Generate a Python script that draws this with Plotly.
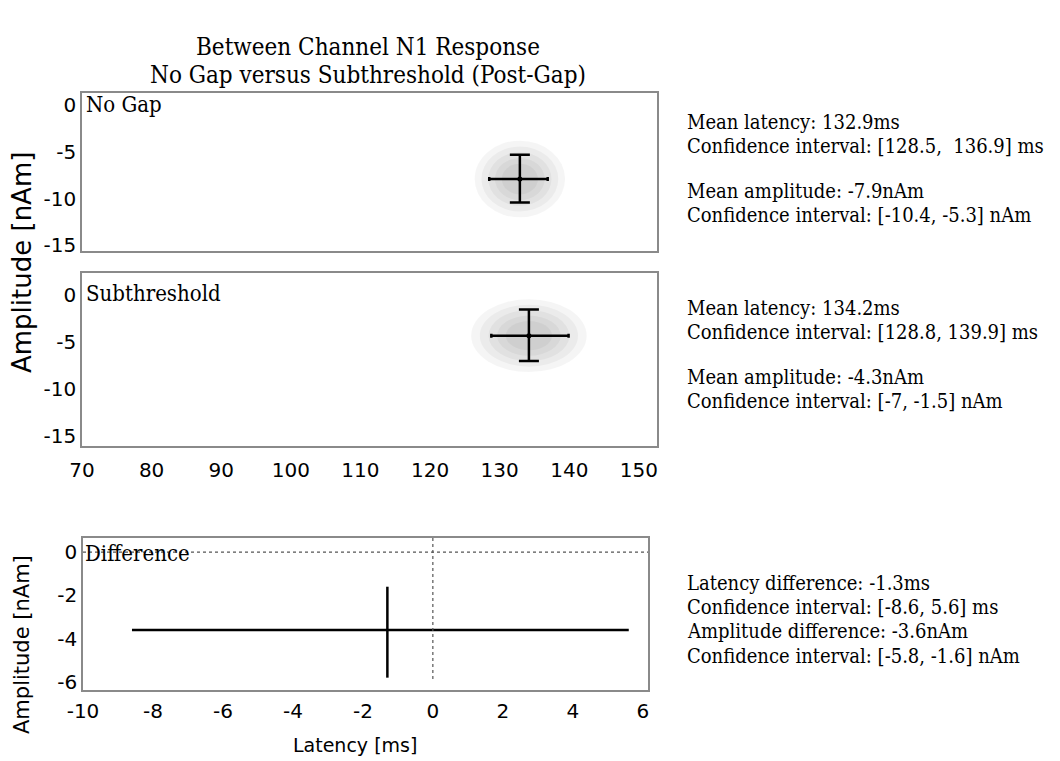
import plotly.graph_objects as go

# ---- data ----
conditions = ["No Gap", "Subthreshold"]
mean_latency = [132.9, 134.2]
latency_ci_low = [128.5, 128.8]
latency_ci_high = [136.9, 139.9]
mean_amplitude = [-7.9, -4.3]
amplitude_ci_low = [-10.4, -7.0]
amplitude_ci_high = [-5.3, -1.5]
latency_ci_text = ["[128.5,  136.9]", "[128.8, 139.9]"]
amplitude_ci_text = ["[-10.4, -5.3]", "[-7, -1.5]"]

# bootstrap cloud spread around each mean (half-widths)
cloud_latency_spread = [6.5, 8.3]
cloud_amplitude_spread = [4.1, 3.9]

diff_latency = -1.3
diff_latency_ci = [-8.6, 5.6]
diff_amplitude = -3.6
diff_amplitude_ci = [-5.8, -1.6]

latency_ticks = [70, 80, 90, 100, 110, 120, 130, 140, 150]
amplitude_ticks = [0, -5, -10, -15]
diff_latency_ticks = [-10, -8, -6, -4, -2, 0, 2, 4, 6]
diff_amplitude_ticks = [0, -2, -4, -6]

W, H = 1060, 761
SERIF = "DejaVu Serif Condensed, DejaVu Serif, serif"
SANS = "DejaVu Sans"
BOX = "#8a8a8a"


def px_x(p):
    return p / W


def px_y(p):
    return 1 - p / H


def labels(vals):
    # plain hyphen-minus for negative numbers
    return [str(v) for v in vals]


fig = go.Figure()

panel_axes = [("x", "y"), ("x2", "y2")]
for i, (xa, ya) in enumerate(panel_axes):
    # bootstrap cloud drawn as stacked translucent ellipses
    for s in [1.0, 0.85, 0.7, 0.55, 0.4]:
        fig.add_shape(
            type="circle", xref=xa, yref=ya, layer="below",
            x0=mean_latency[i] - s * cloud_latency_spread[i],
            x1=mean_latency[i] + s * cloud_latency_spread[i],
            y0=mean_amplitude[i] - s * cloud_amplitude_spread[i],
            y1=mean_amplitude[i] + s * cloud_amplitude_spread[i],
            fillcolor="rgba(0,0,0,0.04)", line=dict(width=0))

    # error cross: mean with confidence intervals
    fig.add_trace(go.Scatter(
        x=[mean_latency[i]], y=[mean_amplitude[i]], mode="markers",
        marker=dict(color="black", size=5),
        error_x=dict(type="data", symmetric=False,
                     array=[latency_ci_high[i] - mean_latency[i]],
                     arrayminus=[mean_latency[i] - latency_ci_low[i]],
                     color="black", thickness=2.5, width=2),
        error_y=dict(type="data", symmetric=False,
                     array=[amplitude_ci_high[i] - mean_amplitude[i]],
                     arrayminus=[mean_amplitude[i] - amplitude_ci_low[i]],
                     color="black", thickness=2.5, width=10),
        xaxis=xa, yaxis=ya, showlegend=False, hoverinfo="skip"))

# difference panel cross
fig.add_trace(go.Scatter(
    x=diff_latency_ci, y=[diff_amplitude, diff_amplitude], mode="lines",
    line=dict(color="black", width=2.5), xaxis="x3", yaxis="y3",
    showlegend=False, hoverinfo="skip"))
fig.add_trace(go.Scatter(
    x=[diff_latency, diff_latency], y=diff_amplitude_ci, mode="lines",
    line=dict(color="black", width=2.5), xaxis="x3", yaxis="y3",
    showlegend=False, hoverinfo="skip"))

# zero reference lines
fig.add_shape(type="line", xref="x3 domain", yref="y3", x0=0, x1=1, y0=0, y1=0,
              line=dict(color="#555", width=1.2, dash="dot"))
fig.add_shape(type="line", xref="x3", yref="y3", x0=0, x1=0, y0=0.65, y1=-6,
              line=dict(color="#555", width=1.2, dash="dot"))

tickfont = dict(family=SANS, size=20, color="black")
common = dict(showgrid=False, zeroline=False, ticks="", showline=True,
              mirror=True, linecolor=BOX, linewidth=1.5, tickfont=tickfont,
              automargin=False)

fig.update_layout(
    width=W, height=H,
    margin=dict(l=0, r=0, t=0, b=0, autoexpand=False),
    paper_bgcolor="white", plot_bgcolor="white",
    xaxis=dict(domain=[px_x(82), px_x(657)], range=[70, 152.6],
               tickvals=latency_ticks, showticklabels=False, anchor="y", **common),
    yaxis=dict(domain=[px_y(251), px_y(93)], range=[-15.6, 1.3],
               tickvals=amplitude_ticks, ticktext=labels(amplitude_ticks),
               anchor="x", ticklabelstandoff=0, **common),
    xaxis2=dict(domain=[px_x(82), px_x(657)], range=[70, 152.6],
                tickvals=latency_ticks, ticktext=labels(latency_ticks),
                anchor="y2", ticklabelstandoff=5, **common),
    yaxis2=dict(domain=[px_y(446), px_y(273)], range=[-16.1, 2.4],
                tickvals=amplitude_ticks, ticktext=labels(amplitude_ticks),
                anchor="x2", ticklabelstandoff=0, **common),
    xaxis3=dict(domain=[px_x(83), px_x(648)], range=[-10.0, 6.15],
                tickvals=diff_latency_ticks, ticktext=labels(diff_latency_ticks),
                anchor="y3", ticklabelstandoff=2, **common),
    yaxis3=dict(domain=[px_y(690), px_y(538)], range=[-6.37, 0.65],
                tickvals=diff_amplitude_ticks, ticktext=labels(diff_amplitude_ticks),
                anchor="x3", ticklabelstandoff=0, **common),
)

annotations = []


def text(x, y, s, size=20, family=SERIF, xanchor="left", angle=0):
    annotations.append(dict(
        x=px_x(x), y=px_y(y), xref="paper", yref="paper", text=s,
        showarrow=False, xanchor=xanchor, yanchor="middle", textangle=angle,
        borderpad=0, font=dict(family=family, size=size, color="black")))


# title
text(368, 47, "Between Channel N1 Response", size=24, xanchor="center")
text(368, 75, "No Gap versus Subthreshold (Post-Gap)", size=24, xanchor="center")

# panel labels
text(85, 104, conditions[0], size=22)
text(85, 293, conditions[1], size=22)
text(84, 553, "Difference", size=22)

# axis titles
text(22, 263, "Amplitude [nAm]", size=26, family=SANS, xanchor="center", angle=-90)
text(22, 645, "Amplitude [nAm]", size=21, family=SANS, xanchor="center", angle=-90)
text(355, 745, "Latency [ms]", size=19, family=SANS, xanchor="center")

# statistics text
for i, y0 in enumerate([122, 308]):
    text(686, y0, f"Mean latency: {mean_latency[i]}ms")
    text(686, y0 + 24, f"Confidence interval: {latency_ci_text[i]} ms")
    text(686, y0 + 69, f"Mean amplitude: {mean_amplitude[i]}nAm")
    text(686, y0 + 93, f"Confidence interval: {amplitude_ci_text[i]} nAm")

text(686, 583, f"Latency difference: {diff_latency}ms")
text(686, 607, f"Confidence interval: [{diff_latency_ci[0]}, {diff_latency_ci[1]}] ms")
text(686, 631, f"Amplitude difference: {diff_amplitude}nAm")
text(686, 656, f"Confidence interval: [{diff_amplitude_ci[0]}, {diff_amplitude_ci[1]}] nAm")

fig.update_layout(annotations=annotations)

fig.write_html("out.html")
